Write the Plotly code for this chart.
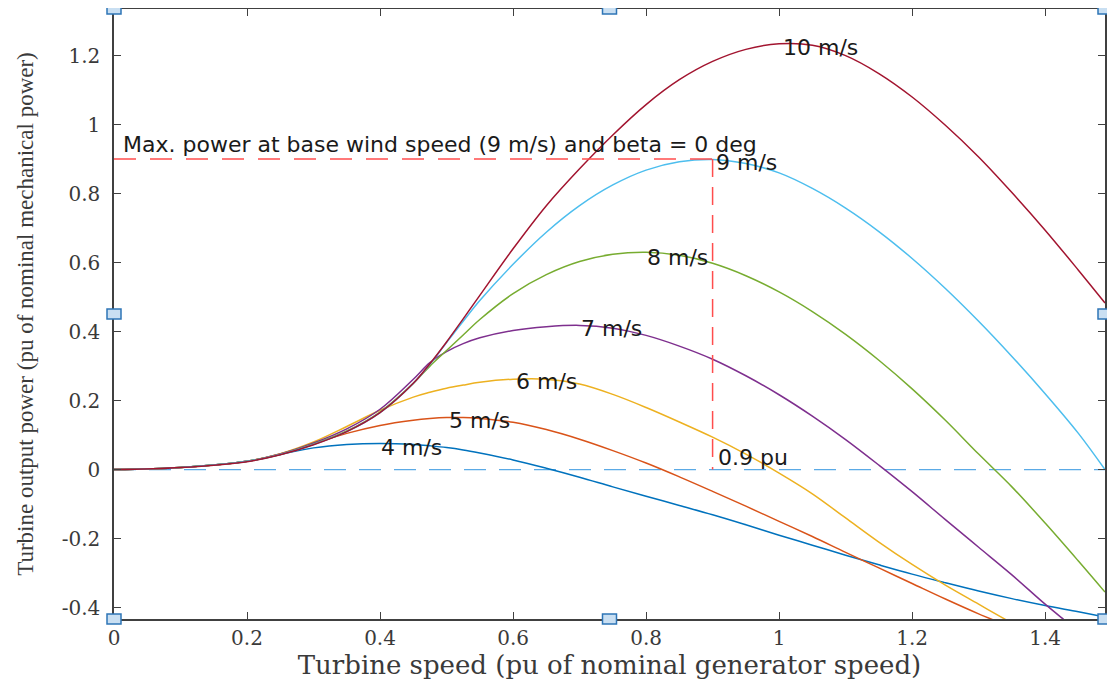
import plotly.graph_objects as go

# ---- data ----
speed_pu = [0, 0.1, 0.2, 0.25, 0.3, 0.35, 0.4, 0.45, 0.475, 0.5, 0.525, 0.55, 0.6, 0.65,
            0.7, 0.75, 0.8, 0.85, 0.9, 0.95, 1.0, 1.05, 1.1, 1.15, 1.2, 1.25, 1.3, 1.35,
            1.4, 1.45, 1.49]

p_4ms = [0, .006, .024, .044, .063, .073, .076, .073, .069, .064, .057, .048, .028, .004,
         -.022, -.05, -.077, -.104, -.131, -.16, -.19, -.219, -.248, -.276, -.303, -.328,
         -.352, -.374, -.394, -.412, -.427]
p_5ms = [0, .006, .024, .045, .075, .105, .128, .143, .148, .151, .151, .148, .137, .116,
         .088, .055, .019, -.021, -.063, -.106, -.15, -.194, -.24, -.285, -.33, -.375,
         -.418, -.458, -.5, -.54, -.572]
p_6ms = [0, .006, .024, .046, .08, .125, .172, .21, .224, .236, .245, .253, .262, .262,
         .248, .218, .18, .138, .094, .045, -.01, -.07, -.14, -.21, -.275, -.335,
         -.39, -.445, -.498, -.55, -.59]
p_7ms = [0, .006, .024, .045, .077, .118, .175, .262, .31, .342, .365, .382, .403, .414,
         .418, .41, .389, .358, .32, .272, .217, .155, .087, .013, -.064, -.145,
         -.225, -.305, -.39, -.47, -.54]
p_8ms = [0, .006, .024, .044, .074, .112, .167, .25, .3, .345, .39, .435, .51, .565,
         .603, .624, .63, .621, .598, .562, .515, .458, .392, .317, .234, .143,
         .045, -.05, -.155, -.265, -.355]
p_9ms = [0, .006, .024, .044, .073, .11, .165, .25, .305, .368, .43, .49, .595, .688,
         .765, .825, .868, .892, .899, .887, .86, .815, .758, .69, .612, .525,
         .43, .328, .22, .105, 0.0]
p_10ms = [0, .006, .023, .043, .072, .11, .165, .25, .307, .37, .437, .505, .64, .765,
          .872, .97, 1.058, 1.13, 1.183, 1.218, 1.234, 1.23, 1.2, 1.148, 1.08, .998,
          .906, .803, .694, .578, .483]

series = [
    ("4 m/s", p_4ms, "#0072BD", 0.40, 0.065),
    ("5 m/s", p_5ms, "#D95319", 0.502, 0.141),
    ("6 m/s", p_6ms, "#EDB120", 0.603, 0.254),
    ("7 m/s", p_7ms, "#7E2F8E", 0.70, 0.41),
    ("8 m/s", p_8ms, "#77AC30", 0.80, 0.616),
    ("9 m/s", p_9ms, "#4DBEEE", 0.903, 0.889),
    ("10 m/s", p_10ms, "#A2142F", 1.004, 1.222),
]

base_speed_pu = 0.9
max_power_pu = 0.9
x_limits = [0, 1.49]
y_limits = [-0.433, 1.335]
x_ticks = [0, 0.2, 0.4, 0.6, 0.8, 1.0, 1.2, 1.4]
x_tick_text = ["0", "0.2", "0.4", "0.6", "0.8", "1", "1.2", "1.4"]
y_ticks = [-0.4, -0.2, 0, 0.2, 0.4, 0.6, 0.8, 1.0, 1.2]
y_tick_text = ["-0.4", "-0.2", "0", "0.2", "0.4", "0.6", "0.8", "1", "1.2"]

fig = go.Figure()

# zero-power reference line
fig.add_trace(go.Scatter(x=x_limits, y=[0, 0], mode="lines",
                         line=dict(color="#5AAAE6", width=1.3, dash="22px,13px"),
                         showlegend=False, hoverinfo="skip"))

for name, vals, color, lx, ly in series:
    fig.add_trace(go.Scatter(x=speed_pu, y=vals, mode="lines", name=name,
                             line=dict(color=color, width=1.5, shape="spline", smoothing=1.0),
                             showlegend=False))

# max power markers (red dashed)
fig.add_trace(go.Scatter(x=[0, base_speed_pu], y=[max_power_pu, max_power_pu], mode="lines",
                         line=dict(color="#FF4D4D", width=1.5, dash="22px,14px"),
                         showlegend=False, hoverinfo="skip"))
fig.add_trace(go.Scatter(x=[base_speed_pu, base_speed_pu], y=[max_power_pu, 0], mode="lines",
                         line=dict(color="#FF4D4D", width=1.5, dash="18px,10px"),
                         showlegend=False, hoverinfo="skip"))

label_font = dict(family="DejaVu Sans", size=22, color="#1a1a1a")
for name, vals, color, lx, ly in series:
    fig.add_annotation(x=lx, y=ly, text=name, showarrow=False, xanchor="left",
                       yanchor="middle", font=label_font, borderpad=0)
fig.add_annotation(x=0.012, y=0.943,
                   text="Max. power at base wind speed (9 m/s) and beta = 0 deg",
                   showarrow=False, xanchor="left", yanchor="middle", font=label_font,
                   borderpad=0)
fig.add_annotation(x=0.907, y=0.036, text="0.9 pu", showarrow=False, xanchor="left",
                   yanchor="middle", font=label_font, borderpad=0)

# figure-editing handles around the axes box
for hx in (0, 0.5, 1):
    for hy in (0, 0.5, 1):
        if hx == 0.5 and hy == 0.5:
            continue
        fig.add_shape(type="rect", xref="paper", yref="paper",
                      xsizemode="pixel", ysizemode="pixel", xanchor=hx, yanchor=hy,
                      x0=-7, x1=7, y0=-5, y1=5,
                      fillcolor="#C9DFF2", line=dict(color="#2E75B6", width=1.5),
                      layer="above")

axis_common = dict(showline=True, linecolor="#404040", linewidth=1.5, mirror="ticks",
                   ticks="inside", ticklen=7, tickwidth=1.2, tickcolor="#404040",
                   showgrid=False, zeroline=False, automargin=False,
                   tickfont=dict(family="DejaVu Serif", size=20, color="#3a3a3a"))

fig.update_xaxes(range=x_limits, tickvals=x_ticks, ticktext=x_tick_text,
                 title=dict(text="Turbine speed (pu of nominal generator speed)",
                            font=dict(family="DejaVu Serif", size=26, color="#3a3a3a"),
                            standoff=1),
                 **axis_common)
fig.update_yaxes(range=y_limits, tickvals=y_ticks, ticktext=y_tick_text,
                 ticklabelstandoff=8,
                 title=dict(text="Turbine output power (pu of nominal mechanical power)",
                            font=dict(family="Liberation Serif", size=23, color="#3a3a3a"),
                            standoff=22),
                 **axis_common)

# the page places the figure 8 px from the window's top-left corner
fig.update_layout(width=1107, height=675, plot_bgcolor="white", paper_bgcolor="white",
                  margin=dict(l=106, r=10, t=1, b=64, autoexpand=False), showlegend=False)

fig.write_html("out.html")
